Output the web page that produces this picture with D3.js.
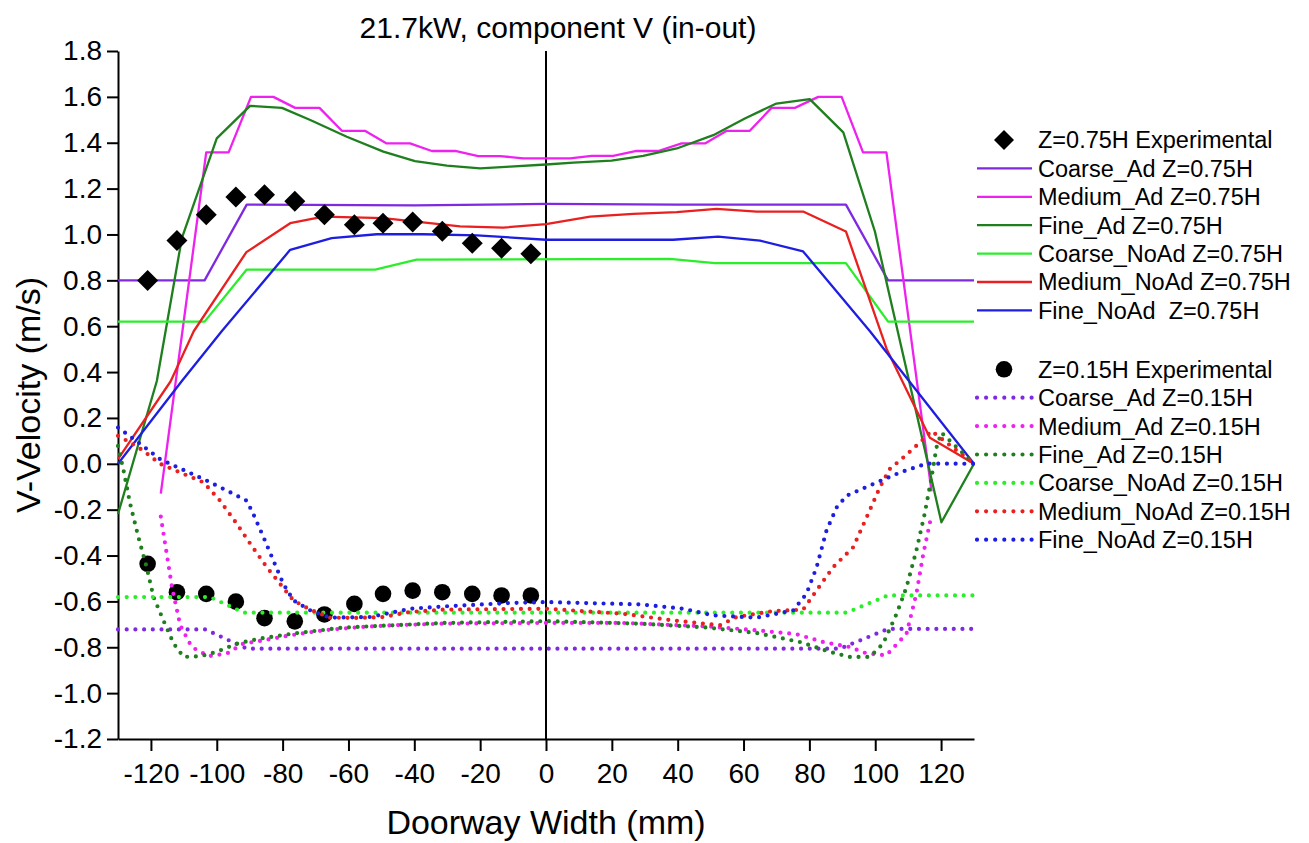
<!DOCTYPE html>
<html>
<head>
<meta charset="utf-8">
<script src="https://cdn.jsdelivr.net/npm/d3@7"></script>
<style>
  html, body { margin: 0; padding: 0; background: #fff; }
  svg { display: block; font-family: "Liberation Sans", Arial, sans-serif; }
  text { white-space: pre; }
</style>
</head>
<body>
<svg id="chart" width="1309" height="843"></svg>
<script>
// ---------------- DATA ----------------
const titleText = "21.7kW, component V (in-out)";
const xTitle = "Doorway Width (mm)";
const yTitle = "V-Velocity (m/s)";

const xMajorTicks = [-120, -100, -80, -60, -40, -20, 0, 20, 40, 60, 80, 100, 120];
const xMinorTicks = [-130, -110, -90, -70, -50, -30, -10, 10, 30, 50, 70, 90, 110, 130];
const yMajorTicks = [-1.2, -1.0, -0.8, -0.6, -0.4, -0.2, 0.0, 0.2, 0.4, 0.6, 0.8, 1.0, 1.2, 1.4, 1.6, 1.8];
const yMinorTicks = [-1.1, -0.9, -0.7, -0.5, -0.3, -0.1, 0.1, 0.3, 0.5, 0.7, 0.9, 1.1, 1.3, 1.5, 1.7];

// Experimental points
const expX = [-121.0, -112.1, -103.2, -94.2, -85.5, -76.3, -67.3, -58.2, -49.5, -40.5, -31.5, -22.4, -13.5, -4.6];
const expV75 = [0.799, 0.974, 1.086, 1.163, 1.173, 1.145, 1.086, 1.042, 1.049, 1.054, 1.014, 0.962, 0.940, 0.916];
const expV15 = [-0.436, -0.560, -0.567, -0.601, -0.673, -0.687, -0.657, -0.611, -0.567, -0.553, -0.560, -0.567, -0.574, -0.574];

// Z=0.75H simulations
const coarseAd75X = [-130, -103.7, -90.9, -40, 0, 40, 91.1, 103.9, 130];
const coarseAd75V = [0.80, 0.80, 1.13, 1.127, 1.133, 1.13, 1.13, 0.80, 0.80];

const mediumAd75X = [-117, -103.2, -96.4, -89.6, -82.8, -76.2, -68.8, -62.0, -55.0, -48.4, -41.3, -34.7, -27.6, -20.6, -14.0, -6.9, 0, 7.3, 13.9, 20.4, 27.5, 34.1, 41.2, 48.3, 54.9, 61.9, 68.5, 75.6, 82.7, 89.8, 96.3, 103.4, 117.1];
const mediumAd75V = [-0.13, 1.358, 1.358, 1.60, 1.60, 1.552, 1.552, 1.452, 1.452, 1.397, 1.397, 1.364, 1.364, 1.342, 1.342, 1.332, 1.332, 1.332, 1.343, 1.343, 1.364, 1.364, 1.397, 1.397, 1.452, 1.452, 1.552, 1.552, 1.60, 1.60, 1.358, 1.358, -0.12];

const fineAd75X = [-130, -118.2, -110.6, -100, -89.9, -80.2, -71.6, -60.5, -49.4, -39.8, -30.1, -20, -10.9, 0, 8.3, 19.9, 29.5, 39.7, 50.8, 60.4, 70, 80.1, 90.3, 99.9, 120.1, 130];
const fineAd75V = [-0.219, 0.361, 0.984, 1.419, 1.561, 1.552, 1.499, 1.426, 1.361, 1.32, 1.30, 1.288, 1.296, 1.305, 1.313, 1.322, 1.343, 1.375, 1.433, 1.506, 1.571, 1.59, 1.445, 1.013, -0.255, 0.0];

const coarseNoAd75X = [-130, -103.7, -90.9, -51.9, -39.3, 37.6, 51.3, 91.1, 103.9, 130];
const coarseNoAd75V = [0.62, 0.62, 0.847, 0.847, 0.89, 0.894, 0.875, 0.875, 0.62, 0.62];

const mediumNoAd75X = [-130, -114, -107, -91, -77.7, -67.6, -49.4, -26.1, -13, 0, 13.4, 26.5, 39.7, 51.8, 64, 78.1, 91.1, 103.5, 116.6, 130];
const mediumNoAd75V = [0.02, 0.36, 0.578, 0.923, 1.049, 1.078, 1.071, 1.035, 1.03, 1.045, 1.078, 1.09, 1.097, 1.112, 1.1, 1.1, 1.013, 0.50, 0.114, 0.0];

const fineNoAd75X = [-130, -110.6, -98.5, -77.7, -65.1, -51.4, -37.2, -21, 0, 38.6, 52.3, 65, 78.1, 98.4, 130];
const fineNoAd75V = [0.0, 0.361, 0.578, 0.933, 0.984, 1.001, 1.001, 0.996, 0.977, 0.977, 0.991, 0.973, 0.926, 0.578, 0.0];

// Z=0.15H simulations
const coarseAd15X = [-130, -103.5, -90.9, 89.3, 103.9, 130];
const coarseAd15V = [-0.722, -0.722, -0.806, -0.806, -0.72, -0.72];

const mediumAd15X = [-117, -113.6, -111.1, -107.6, -102.5, -96.9, -91.9, -85.8, -77.7, -67.6, -56.5, -46.4, -31.2, 0, 23.5, 48.8, 64, 76.1, 84.2, 92.3, 97.4, 103.4, 109.5, 112.5, 114.6, 117];
const mediumAd15V = [-0.23, -0.538, -0.704, -0.799, -0.839, -0.827, -0.784, -0.770, -0.748, -0.726, -0.712, -0.704, -0.697, -0.694, -0.694, -0.709, -0.726, -0.743, -0.777, -0.799, -0.827, -0.835, -0.741, -0.567, -0.393, -0.23];

const fineAd15X = [-130, -128.3, -126.3, -123.8, -121.3, -119.2, -116.2, -113.1, -110.1, -105, -100, -93.9, -86.8, -76.7, -61.5, -46.4, -31.2, 0, 28.5, 48.8, 64, 77.1, 86.2, 92.3, 98.4, 102.4, 106.5, 109.5, 112.5, 115, 117.1, 118.6, 120.1, 130];
const fineAd15V = [0.078, -0.03, -0.175, -0.32, -0.451, -0.581, -0.683, -0.784, -0.842, -0.839, -0.82, -0.784, -0.762, -0.74, -0.714, -0.704, -0.694, -0.686, -0.697, -0.714, -0.738, -0.777, -0.82, -0.842, -0.842, -0.784, -0.654, -0.538, -0.378, -0.219, -0.06, 0.071, 0.136, 0.0];

const coarseNoAd15X = [-130, -102, -91.9, 91.3, 103.9, 130];
const coarseNoAd15V = [-0.581, -0.581, -0.649, -0.649, -0.574, -0.574];

const mediumNoAd15X = [-130, -126.3, -122.3, -117.2, -111.1, -104, -99, -93.9, -89.8, -84.8, -80.8, -76.7, -71.6, -65.6, -56.5, -49.4, -41.3, -31.2, 0, 23.5, 38.6, 52.8, 57.9, 69, 78.1, 82.2, 87.2, 93.3, 97.4, 101.4, 104.4, 108.5, 113.6, 117.1, 130];
const mediumNoAd15V = [0.122, 0.093, 0.057, 0.0, -0.038, -0.081, -0.161, -0.262, -0.349, -0.451, -0.523, -0.596, -0.636, -0.671, -0.672, -0.668, -0.646, -0.636, -0.632, -0.654, -0.683, -0.704, -0.668, -0.642, -0.636, -0.552, -0.451, -0.364, -0.233, -0.103, -0.023, 0.027, 0.093, 0.143, 0.0];

const fineNoAd15X = [-130, -125.1, -117.2, -110.1, -103, -96.9, -90.9, -88.9, -85.8, -82.8, -79.8, -76.7, -71.6, -65.6, -53.4, -41.3, -31.2, -10.9, 0, 28.5, 41.7, 50.8, 64, 75.1, 79.1, 82.2, 85.2, 88.3, 91.3, 99.4, 107.5, 115.6, 130];
const fineNoAd15V = [0.158, 0.107, 0.02, -0.027, -0.074, -0.117, -0.161, -0.219, -0.32, -0.422, -0.523, -0.596, -0.639, -0.671, -0.668, -0.632, -0.622, -0.607, -0.603, -0.613, -0.632, -0.661, -0.671, -0.639, -0.567, -0.451, -0.291, -0.19, -0.139, -0.088, -0.038, 0.001, 0.0];

const seriesNames75 = ["Coarse_Ad Z=0.75H", "Medium_Ad Z=0.75H", "Fine_Ad Z=0.75H", "Coarse_NoAd Z=0.75H", "Medium_NoAd Z=0.75H", "Fine_NoAd  Z=0.75H"];
const seriesNames15 = ["Coarse_Ad Z=0.15H", "Medium_Ad Z=0.15H", "Fine_Ad Z=0.15H", "Coarse_NoAd Z=0.15H", "Medium_NoAd Z=0.15H", "Fine_NoAd Z=0.15H"];
const expNames = ["Z=0.75H Experimental", "Z=0.15H Experimental"];
const seriesColors = ["#7f2ae0", "#ee22ee", "#1f7f1f", "#2bee2b", "#e82020", "#1e1ee0"];

// ---------------- DRAW ----------------
const svg = d3.select("#chart");
const x = d3.scaleLinear().domain([-130, 130]).range([118, 974]);
const y = d3.scaleLinear().domain([-1.2, 1.8]).range([739, 51]);

const zip = (xs, vs) => xs.map((d, i) => [d, vs[i]]);
const solid = [
  zip(coarseAd75X, coarseAd75V), zip(mediumAd75X, mediumAd75V), zip(fineAd75X, fineAd75V),
  zip(coarseNoAd75X, coarseNoAd75V), zip(mediumNoAd75X, mediumNoAd75V), zip(fineNoAd75X, fineNoAd75V)
];
const dotted = [
  zip(coarseAd15X, coarseAd15V), zip(mediumAd15X, mediumAd15V), zip(fineAd15X, fineAd15V),
  zip(coarseNoAd15X, coarseNoAd15V), zip(mediumNoAd15X, mediumNoAd15V), zip(fineNoAd15X, fineNoAd15V)
];

const line = d3.line().x(d => x(d[0])).y(d => y(d[1]));
const fmt = d => (Math.abs(d) < 1e-9 ? 0 : d).toFixed(1);

// Axes
const axisColor = "#000";
const gx = svg.append("g").attr("transform", `translate(0,${y(-1.2)})`);
gx.call(d3.axisBottom(x).tickValues(xMinorTicks).tickSize(7).tickSizeOuter(0).tickFormat(""));
gx.call(d3.axisBottom(x).tickValues(xMajorTicks).tickSize(12).tickSizeOuter(0).tickPadding(12).tickFormat(d => String(d)));
gx.selectAll("path,line").attr("stroke", axisColor).attr("stroke-width", 2);
gx.selectAll("text").attr("font-size", 28).attr("fill", "#000").attr("font-family", "Liberation Sans, Arial, sans-serif");

const gy = svg.append("g").attr("transform", `translate(${x(-130)},0)`);
gy.call(d3.axisLeft(y).tickValues(yMinorTicks).tickSize(6).tickSizeOuter(0).tickFormat(""));
gy.call(d3.axisLeft(y).tickValues(yMajorTicks).tickSize(11).tickSizeOuter(0).tickPadding(5).tickFormat(fmt));
gy.selectAll("path,line").attr("stroke", axisColor).attr("stroke-width", 2);
gy.selectAll("text").attr("font-size", 28).attr("fill", "#000").attr("font-family", "Liberation Sans, Arial, sans-serif");

// zero vertical line
svg.append("line").attr("x1", x(0)).attr("x2", x(0)).attr("y1", y(1.8)).attr("y2", y(-1.2))
  .attr("stroke", "#000").attr("stroke-width", 2);

// Solid lines
const plot = svg.append("g");
solid.forEach((s, i) => {
  plot.append("path").datum(s).attr("d", line).attr("fill", "none")
    .attr("stroke", seriesColors[i]).attr("stroke-width", 2.3).attr("stroke-linejoin", "round");
});

// diamonds
const diamond = r => `M0,${-r}L${r},0L0,${r}L${-r},0Z`;
plot.selectAll("path.dia").data(zip(expX, expV75)).enter().append("path").attr("class", "dia")
  .attr("d", diamond(10.5)).attr("transform", d => `translate(${x(d[0])},${y(d[1])})`).attr("fill", "#000");

// circles
plot.selectAll("circle.exp").data(zip(expX, expV15)).enter().append("circle").attr("class", "exp")
  .attr("cx", d => x(d[0])).attr("cy", d => y(d[1])).attr("r", 8.3).attr("fill", "#000");

// Dotted lines
dotted.forEach((s, i) => {
  plot.append("path").datum(s).attr("d", line).attr("fill", "none")
    .attr("stroke", seriesColors[i]).attr("stroke-width", 4.2).attr("stroke-linecap", "round")
    .attr("stroke-dasharray", "0 8.7");
});

// Titles
svg.append("text").attr("x", 558).attr("y", 38).attr("text-anchor", "middle")
  .attr("font-size", 30).attr("fill", "#000").text(titleText);
svg.append("text").attr("x", 546).attr("y", 834).attr("text-anchor", "middle")
  .attr("font-size", 34).attr("fill", "#000").text(xTitle);
svg.append("text").attr("transform", `translate(40,${(y(1.8) + y(-1.2)) / 2}) rotate(-90)`)
  .attr("text-anchor", "middle").attr("font-size", 34).attr("fill", "#000").text(yTitle);

// Legend
const lg = svg.append("g");
const lx1 = 977, lx2 = 1032, ltx = 1038, lstep = 28.4;
function legendText(yy, t) {
  lg.append("text").attr("x", ltx).attr("y", yy).attr("dy", "0.36em").attr("font-size", 23.5)
    .attr("fill", "#000").text(t);
}
const top1 = 140, top2 = 369.3;
lg.append("path").attr("d", diamond(10)).attr("transform", `translate(1004,${top1})`).attr("fill", "#000");
legendText(top1, expNames[0]);
seriesNames75.forEach((n, i) => {
  const yy = top1 + lstep * (i + 1);
  lg.append("line").attr("x1", lx1).attr("x2", lx2).attr("y1", yy).attr("y2", yy)
    .attr("stroke", seriesColors[i]).attr("stroke-width", 2.3);
  legendText(yy, n);
});
lg.append("circle").attr("cx", 1004).attr("cy", top2).attr("r", 8.3).attr("fill", "#000");
legendText(top2, expNames[1]);
seriesNames15.forEach((n, i) => {
  const yy = top2 + lstep * (i + 1);
  lg.append("line").attr("x1", lx1).attr("x2", lx2).attr("y1", yy).attr("y2", yy)
    .attr("stroke", seriesColors[i]).attr("stroke-width", 4.2).attr("stroke-linecap", "round")
    .attr("stroke-dasharray", "0 9.1");
  legendText(yy, n);
});
</script>
</body>
</html>
